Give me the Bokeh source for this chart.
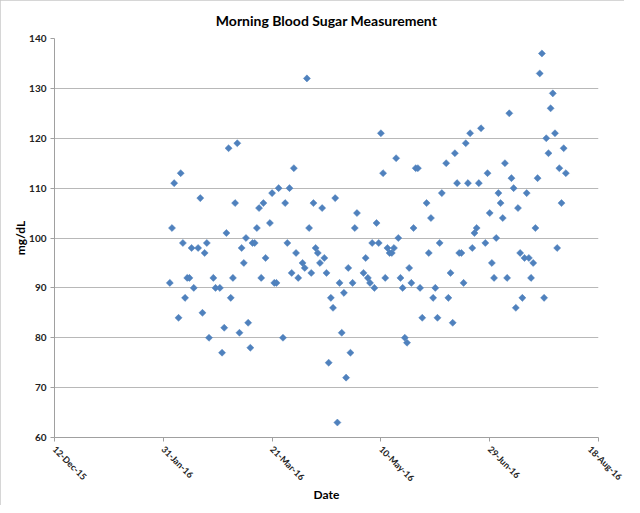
import numpy as np
import pandas as pd
from bokeh.plotting import figure
from bokeh.models import Range1d, FixedTicker, DatetimeTickFormatter
from bokeh.embed import file_html
from bokeh.resources import INLINE

dates = [
    "2016-02-03", "2016-02-04", "2016-02-05", "2016-02-07", "2016-02-08", "2016-02-09",
    "2016-02-10", "2016-02-11", "2016-02-12", "2016-02-13", "2016-02-14", "2016-02-16",
    "2016-02-17", "2016-02-18", "2016-02-19", "2016-02-20", "2016-02-21", "2016-02-23",
    "2016-02-24", "2016-02-26", "2016-02-27", "2016-02-28", "2016-02-29", "2016-03-01",
    "2016-03-02", "2016-03-03", "2016-03-04", "2016-03-05", "2016-03-06", "2016-03-07",
    "2016-03-08", "2016-03-09", "2016-03-10", "2016-03-11", "2016-03-12", "2016-03-13",
    "2016-03-14", "2016-03-15", "2016-03-16", "2016-03-17", "2016-03-18", "2016-03-20",
    "2016-03-21", "2016-03-22", "2016-03-23", "2016-03-24", "2016-03-26", "2016-03-27",
    "2016-03-28", "2016-03-29", "2016-03-30", "2016-03-31", "2016-04-01", "2016-04-02",
    "2016-04-04", "2016-04-05", "2016-04-06", "2016-04-07", "2016-04-08", "2016-04-09",
    "2016-04-10", "2016-04-11", "2016-04-12", "2016-04-13", "2016-04-14", "2016-04-15",
    "2016-04-16", "2016-04-17", "2016-04-18", "2016-04-19", "2016-04-20", "2016-04-21",
    "2016-04-22", "2016-04-23", "2016-04-24", "2016-04-25", "2016-04-26", "2016-04-27",
    "2016-04-28", "2016-04-29", "2016-05-02", "2016-05-03", "2016-05-04", "2016-05-05",
    "2016-05-06", "2016-05-07", "2016-05-08", "2016-05-09", "2016-05-10", "2016-05-11",
    "2016-05-12", "2016-05-13", "2016-05-14", "2016-05-15", "2016-05-16", "2016-05-17",
    "2016-05-18", "2016-05-19", "2016-05-20", "2016-05-21", "2016-05-22", "2016-05-23",
    "2016-05-24", "2016-05-25", "2016-05-26", "2016-05-27", "2016-05-28", "2016-05-29",
    "2016-05-31", "2016-06-01", "2016-06-02", "2016-06-03", "2016-06-04", "2016-06-05",
    "2016-06-06", "2016-06-07", "2016-06-09", "2016-06-10", "2016-06-11", "2016-06-12",
    "2016-06-13", "2016-06-14", "2016-06-15", "2016-06-16", "2016-06-17", "2016-06-18",
    "2016-06-19", "2016-06-20", "2016-06-21", "2016-06-22", "2016-06-23", "2016-06-24",
    "2016-06-25", "2016-06-27", "2016-06-28", "2016-06-29", "2016-06-30", "2016-07-01",
    "2016-07-02", "2016-07-03", "2016-07-04", "2016-07-05", "2016-07-06", "2016-07-07",
    "2016-07-08", "2016-07-09", "2016-07-10", "2016-07-11", "2016-07-12", "2016-07-13",
    "2016-07-14", "2016-07-15", "2016-07-16", "2016-07-17", "2016-07-18", "2016-07-19",
    "2016-07-20", "2016-07-21", "2016-07-22", "2016-07-23", "2016-07-24", "2016-07-25",
    "2016-07-26", "2016-07-27", "2016-07-28", "2016-07-29", "2016-07-30", "2016-07-31",
    "2016-08-01", "2016-08-02", "2016-08-03",
]

values = [
    91, 102, 111, 84, 113, 99,
    88, 92, 92, 98, 90, 98,
    108, 85, 97, 99, 80, 92,
    90, 90, 77, 82, 101, 118,
    88, 92, 107, 119, 81, 98,
    95, 100, 83, 78, 99, 99,
    102, 106, 92, 107, 96, 103,
    109, 91, 91, 110, 80, 107,
    99, 110, 93, 114, 97, 92,
    95, 94, 132, 102, 93, 107,
    98, 97, 95, 106, 96, 93,
    75, 88, 86, 108, 63, 91,
    81, 89, 72, 94, 77, 91,
    102, 105, 93, 96, 92, 91,
    99, 90, 103, 99, 121, 113,
    92, 98, 97, 97, 98, 116,
    100, 92, 90, 80, 79, 94,
    91, 102, 114, 114, 90, 84,
    107, 97, 104, 88, 90, 84,
    99, 109, 115, 88, 93, 83,
    117, 111, 97, 97, 91, 119,
    111, 121, 98, 101, 102, 111,
    122, 99, 113, 105, 95, 92,
    100, 109, 107, 104, 115, 92,
    125, 112, 110, 86, 106, 97,
    88, 96, 109, 96, 92, 95,
    102, 112, 133, 137, 88, 120,
    117, 126, 129, 121, 98, 114,
    107, 118, 113,
]

x_tick_dates = ["2015-12-12", "2016-01-31", "2016-03-21", "2016-05-10", "2016-06-29", "2016-08-18"]
y_ticks = [60, 70, 80, 90, 100, 110, 120, 130, 140]

FONT = "Lato"

def to_ms(s):
    return pd.Timestamp(s).value / 1e6

x = pd.to_datetime(dates)
x_ticks_ms = [to_ms(d) for d in x_tick_dates]

p = figure(
    width=624, height=505,
    output_backend="svg", toolbar_location=None,
    x_axis_type="datetime",
    x_range=Range1d(x_ticks_ms[0], x_ticks_ms[-1]),
    y_range=Range1d(y_ticks[0], y_ticks[-1]),
    min_border_left=54, min_border_right=26, min_border_top=37, min_border_bottom=68,
    title="Morning Blood Sugar Measurement",
)
p.styles = {"outline": "1px solid #c8c8c8", "outline-offset": "-1px"}

p.scatter(x, values, marker="square", angle=np.pi / 4, size=5,
          fill_color="#4F81BD", line_color="#4F81BD", line_width=0.5)

p.title.align = "center"
p.title.text_font = FONT
p.title.text_font_size = "14px"
p.title.text_font_style = "bold"
p.title.text_color = "#000000"
p.title.offset = 0
p.title.standoff = 19

p.outline_line_color = None
p.background_fill_color = "white"
p.border_fill_color = "white"

p.xgrid.grid_line_color = None
p.ygrid.grid_line_color = "#b8b8b8"
p.ygrid.grid_line_width = 1
p.ygrid.ticker = FixedTicker(ticks=y_ticks)

p.yaxis.ticker = FixedTicker(ticks=y_ticks)
p.xaxis.ticker = FixedTicker(ticks=x_ticks_ms)
fmt = "%d-%b-%y"
p.xaxis.formatter = DatetimeTickFormatter(
    milliseconds=fmt, seconds=fmt, minsec=fmt, minutes=fmt, hourmin=fmt,
    hours=fmt, days=fmt, months=fmt, years=fmt, context=None,
)
p.xaxis.major_label_orientation = -np.pi / 4

for ax in (p.xaxis[0], p.yaxis[0]):
    ax.major_label_text_font = FONT
    ax.major_label_text_font_size = "10px"
    ax.major_label_text_font_style = "bold"
    ax.major_label_text_color = "#222222"
    ax.axis_label_text_font = FONT
    ax.axis_label_text_font_size = "12px"
    ax.axis_label_text_font_style = "bold"
    ax.axis_label_text_color = "#000000"
    ax.minor_tick_line_color = None
    ax.major_tick_in = 0
    ax.major_tick_out = 4
    ax.major_tick_line_color = "#a0a0a0"
    ax.axis_line_color = "#a0a0a0"

p.xaxis.major_label_text_font_size = "9px"
p.xaxis.axis_label = "Date"
p.yaxis.axis_label = "mg/dL"
p.yaxis.major_label_standoff = 4
p.yaxis.axis_label_standoff = -2
p.xaxis.major_label_standoff = 6
p.xaxis.axis_label_standoff = -3

open("out.html", "w").write(file_html(p, INLINE))
